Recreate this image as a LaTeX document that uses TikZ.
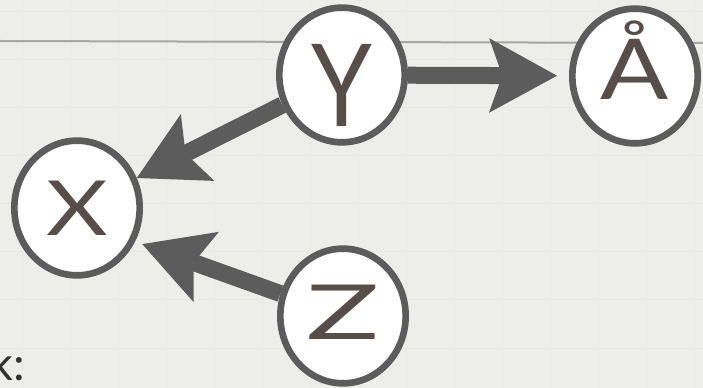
\documentclass[tikz,border=0pt]{standalone}
\usepackage{fontspec}
\setmainfont{Lato}
\usetikzlibrary{shapes.geometric,arrows.meta}
\definecolor{bgc}{HTML}{EDEDEA}
\definecolor{gridc}{HTML}{E8E8E5}
\definecolor{rulec}{HTML}{A5A5A5}
\definecolor{edgec}{HTML}{5C5C5C}
\definecolor{textc}{HTML}{574D49}
\newcommand\lab[3]{\makebox[0pt]{\raisebox{#1}[0pt][0pt]{\scalebox{#2}[1]{#3}}}}
\begin{document}
\begin{tikzpicture}[x=0.75pt,y=-0.75pt,
  var/.style={ellipse, draw=edgec, line width=5pt, fill=white, inner sep=0pt,
    minimum width=94pt, minimum height=101pt, text=textc},
  arr/.style={draw=edgec, line width=12.75pt,
    -{Stealth[length=51pt,width=56pt,inset=10pt,line width=0pt]}}
]
\fill[bgc] (0,0) rectangle (703,388);
\useasboundingbox (0,0) rectangle (703,388);
\foreach \x in {22,70,118,166,214,262,310,358,406,454,502,550,598,646,694}
  \draw[gridc, line width=0.75pt] (\x,0) -- (\x,388);
\foreach \y in {12,60,108,156,204,252,300,348}
  \draw[gridc, line width=0.75pt] (0,\y) -- (703,\y);
\draw[rulec, line width=1.5pt] (0,41) -- (703,43);

\node[var] (Y) at (342,75) {\fontsize{86pt}{90pt}\selectfont\lab{-39pt}{0.85}{Y}};
\node[var] (A) at (635,76) {\fontsize{63pt}{66pt}\selectfont\lab{-18pt}{1.2}{Å}};
\node[var] (X) at (77,208) {\fontsize{57pt}{60pt}\selectfont\lab{-20.5pt}{1.25}{X}};
\node[var] (Z) at (343,316) {\fontsize{57pt}{60pt}\selectfont\lab{-17.5pt}{1.6}{Z}};
\node[anchor=base east, inner sep=0pt, text=black!80,
  font=\fontsize{35pt}{40pt}\selectfont] (k) at (25,380) {k:};

\draw[arr, shorten >=9pt] (Y) -- (A);
\draw[arr] (Y) -- (X);
\draw[arr, shorten >=5.7pt] (Z) -- (X.-30);
\end{tikzpicture}
\end{document}
